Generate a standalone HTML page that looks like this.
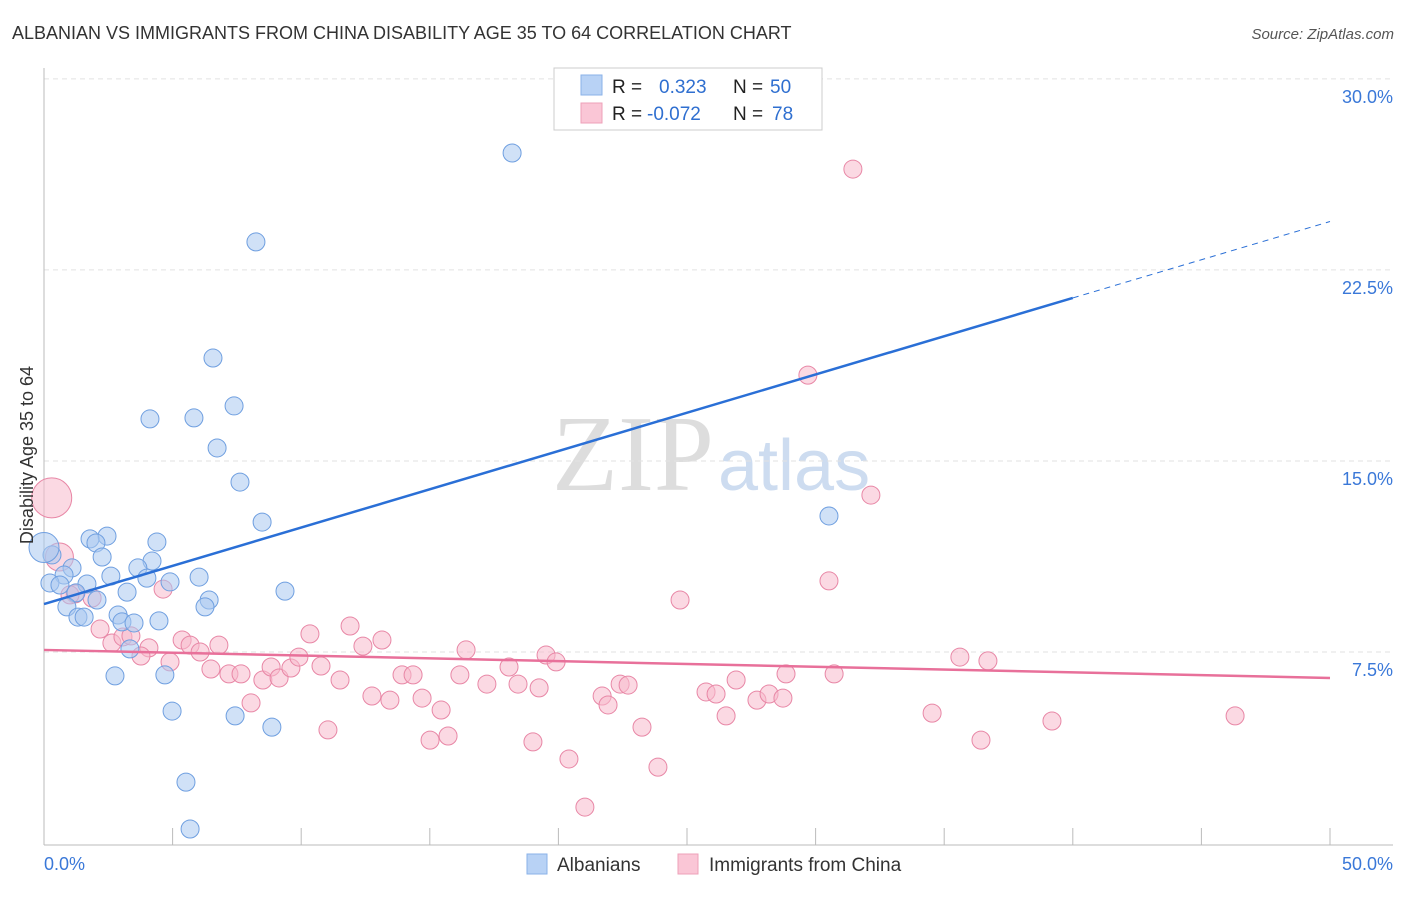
<!DOCTYPE html>
<html><head><meta charset="utf-8"><style>
body{margin:0;background:#fff;font-family:"Liberation Sans",sans-serif;}
</style></head><body>
<svg id="chart" width="1406" height="892" xmlns="http://www.w3.org/2000/svg">
<text x="12" y="39" font-size="18" fill="#333">ALBANIAN VS IMMIGRANTS FROM CHINA DISABILITY AGE 35 TO 64 CORRELATION CHART</text>
<text x="1394" y="39" font-size="15" fill="#555" font-style="italic" text-anchor="end">Source: ZipAtlas.com</text>
<text x="714" y="490" font-size="108" fill="#ddd" text-anchor="end" font-family="Liberation Serif">ZIP</text>
<text x="718" y="490" font-size="72" fill="#cddcf0">atlas</text>
<g id="grid"></g><g id="axes"></g><g id="marks"></g>
<text transform="translate(33,455) rotate(-90)" font-size="18" fill="#333" text-anchor="middle">Disability Age 35 to 64</text>
<g>
<rect x="554" y="68" width="268" height="62" fill="#fff" stroke="#ccc"/>
<rect x="581" y="75" width="21" height="20" fill="#b8d2f5" stroke="#8ab2e8"/>
<rect x="581" y="103" width="21" height="20" fill="#fac6d6" stroke="#eea0b8"/>
<text x="612" y="93" font-size="19" fill="#222">R = </text><text x="659" y="93" font-size="19" fill="#2f6fd0">0.323</text>
<text x="733" y="93" font-size="19" fill="#222">N = </text><text x="770" y="93" font-size="19" fill="#2f6fd0">50</text>
<text x="612" y="120" font-size="19" fill="#222">R = </text><text x="647" y="120" font-size="19" fill="#2f6fd0">-0.072</text>
<text x="733" y="120" font-size="19" fill="#222">N = </text><text x="772" y="120" font-size="19" fill="#2f6fd0">78</text>
</g>
<g>
<rect x="527" y="854" width="20" height="20" fill="#b8d2f5" stroke="#8ab2e8"/>
<text x="557" y="871" font-size="19" fill="#333">Albanians</text>
<rect x="678" y="854" width="20" height="20" fill="#fac6d6" stroke="#eea0b8"/>
<text x="709" y="871" font-size="19" fill="#333">Immigrants from China</text>
</g>
</svg>
<script>
const yTicks=[7.5,15,22.5,30];
const yTickLabels=["7.5%","15.0%","22.5%","30.0%"];
const xTickLabels=["0.0%","50.0%"];
const blueX=[18.20,8.24,6.57,4.12,5.83,7.39,6.73,7.62,8.48,30.52,2.45,1.79,2.02,4.39,0.31,2.26,4.20,1.09,0.78,3.65,2.60,4.00,6.03,4.90,0.23,1.67,0.62,3.23,2.06,1.24,9.37,6.42,6.26,0.89,1.32,1.56,2.88,3.03,3.50,4.47,3.34,2.76,4.70,4.98,7.43,8.86,5.52,5.68];
const blueY=[27.09,23.60,19.04,16.65,16.69,17.16,15.51,14.17,12.60,12.84,12.05,11.94,11.78,11.82,11.31,11.23,11.07,10.80,10.52,10.80,10.48,10.40,10.44,10.25,10.21,10.17,10.13,9.85,9.54,9.82,9.89,9.54,9.27,9.27,8.87,8.87,8.95,8.68,8.64,8.72,7.62,6.56,6.60,5.18,4.99,4.55,2.39,0.55];
const pinkX=[31.45,29.70,32.15,30.52,24.73,4.63,1.21,1.87,1.01,2.18,2.64,3.07,3.38,4.08,3.77,4.90,5.37,5.68,6.07,6.49,6.80,7.19,7.66,8.05,8.51,8.83,9.14,9.60,9.91,10.34,10.77,11.04,11.51,11.90,12.40,12.75,13.14,13.45,13.92,14.35,14.70,15.01,15.44,15.71,16.17,16.41,17.22,18.08,18.43,19.01,19.25,19.52,19.91,20.41,21.03,21.70,21.93,22.40,22.71,23.25,23.87,25.74,26.13,26.52,26.91,27.72,28.19,28.73,28.85,30.72,34.53,35.61,36.43,36.70,39.19,46.31];
const pinkY=[26.46,18.37,13.66,10.29,9.54,9.97,9.78,9.62,9.74,8.40,7.85,8.09,8.13,7.66,7.34,7.11,7.97,7.77,7.50,6.83,7.77,6.64,6.64,5.50,6.40,6.91,6.48,6.87,7.30,8.21,6.95,4.44,6.40,8.52,7.73,5.77,7.97,5.61,6.60,6.60,5.69,4.04,5.22,4.20,6.60,7.58,6.24,6.91,6.24,3.97,6.09,7.38,7.11,3.30,1.41,5.77,5.42,6.24,6.20,4.55,2.98,5.93,5.85,4.99,6.40,5.61,5.85,5.69,6.64,6.64,5.10,7.30,4.04,7.15,4.79,4.99];
const blueBigX=[0], blueBigY=[11.6];
const pinkBigX=[0.3,0.6], pinkBigY=[13.55,11.23];
const blueTrend=[9.38,21.4,24.4]; // at x=0,40,50
const pinkTrend=[7.58,6.48];
const ns="http://www.w3.org/2000/svg";
const sx=v=>44+v*25.72, sy=v=>843-v*25.47;
function mk(tag,attrs,parent){const e=document.createElementNS(ns,tag);for(const k in attrs)e.setAttribute(k,attrs[k]);document.getElementById(parent).appendChild(e);return e;}
yTicks.forEach((t,i)=>{
 const l=mk('line',{x1:44,y1:sy(t),x2:1393,y2:sy(t),stroke:'#e2e2e2','stroke-dasharray':'5,4'},'grid');
 
 
 const tx=mk('text',{x:1393,y:sy(t)+24,'font-size':18,fill:'#3a78d8','text-anchor':'end'},'axes');
 tx.textContent=yTickLabels[i];
 
 
});
const ya=mk('line',{x1:44,y1:68,x2:44,y2:845,stroke:'#bbb'},'axes');


const xa=mk('line',{x1:44,y1:845,x2:1393,y2:845,stroke:'#bbb'},'axes');


for(let i=0;i<=10;i++){const t=mk('line',{x1:sx(i*5),y1:828,x2:sx(i*5),y2:845,stroke:'#bbb'},'axes');
 
 }
[[0,'start',44],[1,'end',1393]].forEach(([i,a,x])=>{const t=mk('text',{x:x,y:870,'font-size':18,fill:'#3a78d8','text-anchor':a},'axes');t.textContent=xTickLabels[i];
 
 });
function dot(x,y,r,c){const e=mk('circle',{cx:sx(x),cy:sy(y),r:r,fill:c[0],'fill-opacity':0.55,stroke:c[1],'stroke-width':1},'marks');return e;}
const B=['#a9c8f0','#6f9fe0'],P=['#f7b9cc','#e887a6'];
pinkX.forEach((x,i)=>{const e=dot(x,pinkY[i],9,P);
 
 });
pinkBigX.forEach((x,i)=>{const e=dot(x,pinkBigY[i],i?14:20,P);
 
 });
blueX.forEach((x,i)=>{const e=dot(x,blueY[i],9,B);
 
 });
blueBigX.forEach((x,i)=>{const e=dot(x,blueBigY[i],15,B);
 
 });
const bl=mk('line',{x1:sx(0),y1:sy(blueTrend[0]),x2:sx(40),y2:sy(blueTrend[1]),stroke:'#2a6fd6','stroke-width':2.5},'marks');


const bd=mk('line',{x1:sx(40),y1:sy(blueTrend[1]),x2:sx(50),y2:sy(blueTrend[2]),stroke:'#2a6fd6','stroke-width':1,'stroke-dasharray':'6,5'},'marks');


const pl=mk('line',{x1:sx(0),y1:sy(pinkTrend[0]),x2:sx(50),y2:sy(pinkTrend[1]),stroke:'#e8709a','stroke-width':2.5},'marks');


</script>
</body></html>
